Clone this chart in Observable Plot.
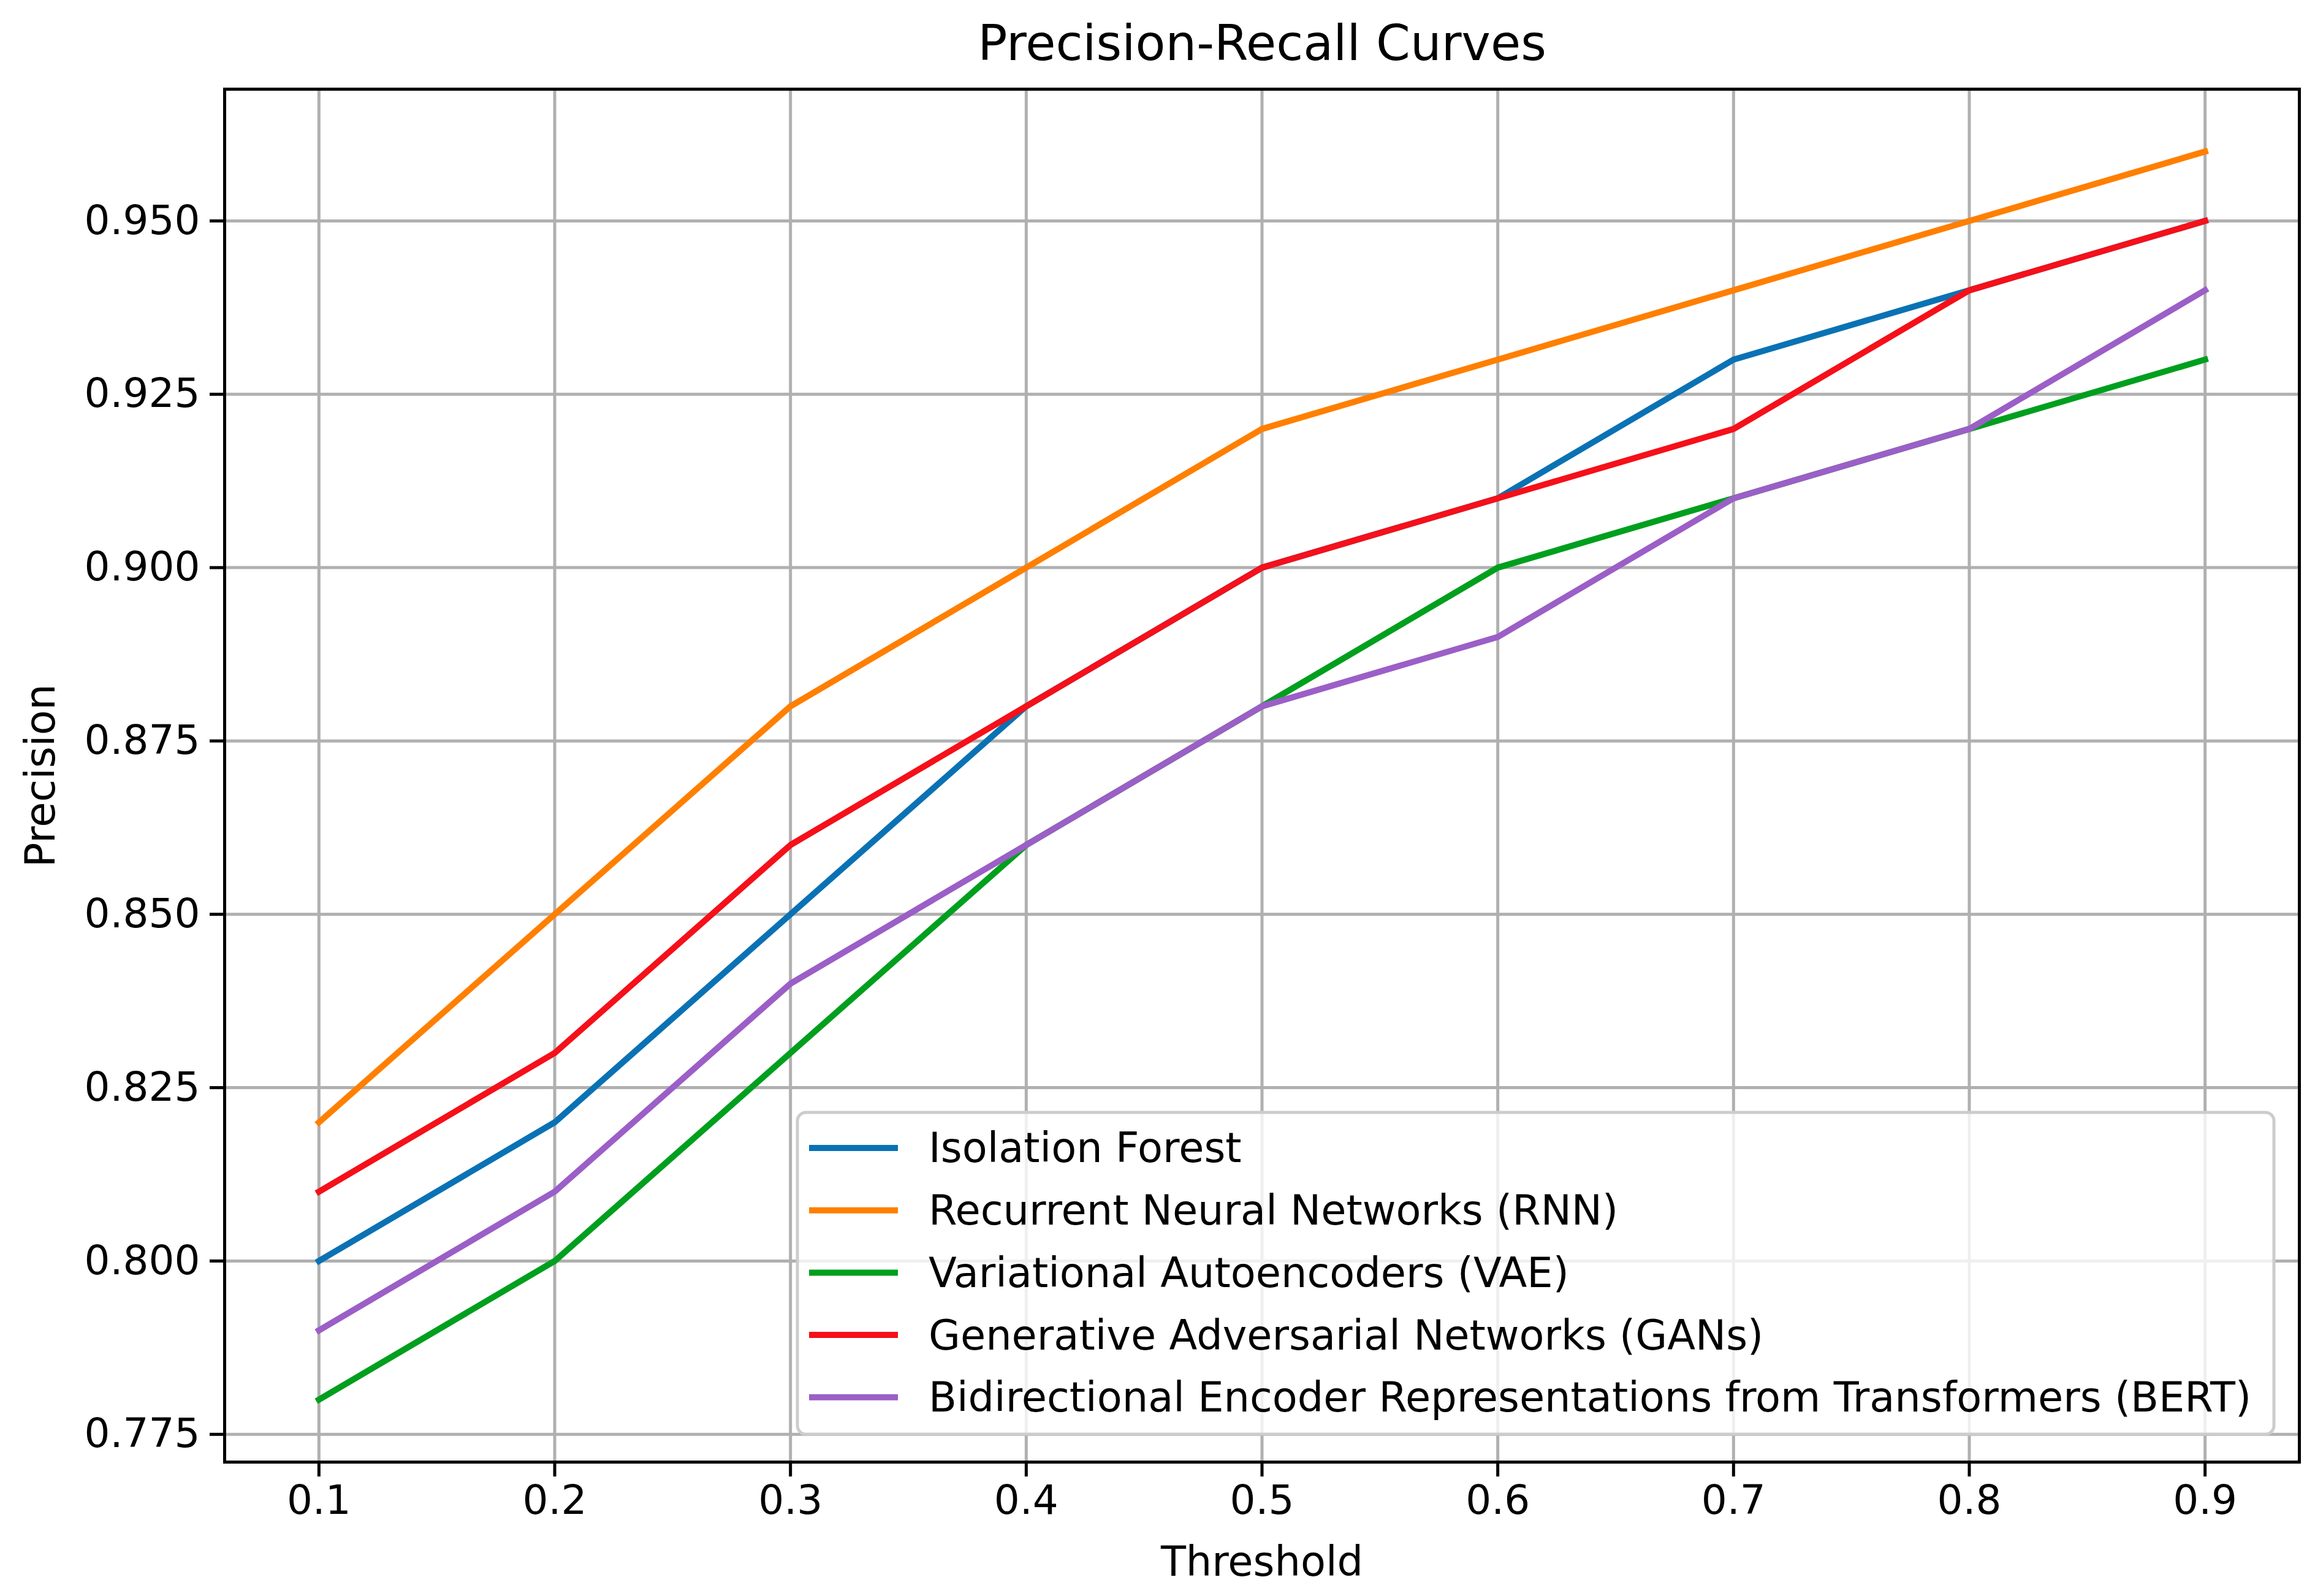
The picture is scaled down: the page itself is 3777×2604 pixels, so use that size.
<!DOCTYPE html>
<html><head><meta charset="utf-8">
<script src="https://cdn.jsdelivr.net/npm/d3@7"></script>
<script src="https://cdn.jsdelivr.net/npm/@observablehq/plot@0.6"></script>
<style>html,body{margin:0;padding:0;background:#fff} svg{display:block}</style>
</head><body><div id="chart"></div>
<script>
// ---- data ----
const thresholds = [0.1, 0.2, 0.3, 0.4, 0.5, 0.6, 0.7, 0.8, 0.9];
const seriesNames = [
  "Isolation Forest",
  "Recurrent Neural Networks (RNN)",
  "Variational Autoencoders (VAE)",
  "Generative Adversarial Networks (GANs)",
  "Bidirectional Encoder Representations from Transformers (BERT)"
];
const isolationForest = [0.80, 0.82, 0.85, 0.88, 0.90, 0.91, 0.93, 0.94, 0.95];
const rnn             = [0.82, 0.85, 0.88, 0.90, 0.92, 0.93, 0.94, 0.95, 0.96];
const vae             = [0.78, 0.80, 0.83, 0.86, 0.88, 0.90, 0.91, 0.92, 0.93];
const gans            = [0.81, 0.83, 0.86, 0.88, 0.90, 0.91, 0.92, 0.94, 0.95];
const bert            = [0.79, 0.81, 0.84, 0.86, 0.88, 0.89, 0.91, 0.92, 0.94];
const seriesValues = [isolationForest, rnn, vae, gans, bert];
const seriesColors = ["#0a72b4", "#ff7f00", "#009f1e", "#f5101a", "#9b5fc7"];
const xTicks = [0.1, 0.2, 0.3, 0.4, 0.5, 0.6, 0.7, 0.8, 0.9];
const yTicks = [0.775, 0.800, 0.825, 0.850, 0.875, 0.900, 0.925, 0.950];
const titleText = "Precision-Recall Curves";
const xLabel = "Threshold";
const yLabel = "Precision";

// ---- table ----
const rows = seriesNames.flatMap((name, i) =>
  thresholds.map((t, j) => ({series: name, threshold: t, precision: seriesValues[i][j]})));

// ---- layout ----
const W = 3777, H = 2604;
const mL = 366, mR = 26, mT = 145, mB = 219;
const font = "DejaVu Sans";
const fs = 66;

const plot = Plot.plot({
  width: W, height: H,
  marginLeft: mL, marginRight: mR, marginTop: mT, marginBottom: mB,
  style: {fontFamily: font, background: "white", color: "black", fontSize: fs + "px"},
  x: {domain: [0.06, 0.94]},
  y: {domain: [0.771, 0.969]},
  color: {domain: seriesNames, range: seriesColors},
  marks: [
    Plot.gridX(xTicks, {stroke: "#b0b0b0", strokeOpacity: 1, strokeWidth: 5}),
    Plot.gridY(yTicks, {stroke: "#b0b0b0", strokeOpacity: 1, strokeWidth: 5}),
    Plot.line(rows, {x: "threshold", y: "precision", z: "series", stroke: "series", strokeWidth: 10, strokeLinecap: "square"}),
    Plot.frame({stroke: "black", strokeWidth: 5}),
    Plot.axisX(xTicks, {tickSize: 24, strokeWidth: 5, tickPadding: 14, fontSize: fs, tickFormat: d3.format(".1f"), label: null}),
    Plot.axisY(yTicks, {tickSize: 24, strokeWidth: 5, tickPadding: 16, fontSize: fs, tickFormat: d3.format(".3f"), label: null}),
    Plot.text([titleText], {text: d => d, frameAnchor: "top", dy: -73, fontSize: 80, lineAnchor: "middle", textAnchor: "middle"}),
    Plot.text([xLabel], {text: d => d, frameAnchor: "bottom", dy: 164, fontSize: 67, lineAnchor: "middle", textAnchor: "middle"}),
    Plot.text([yLabel], {text: d => d, frameAnchor: "left", dx: -299, rotate: -90, fontSize: 67, lineAnchor: "middle", textAnchor: "middle"})
  ]
});
document.getElementById("chart").appendChild(plot);

// ---- legend (inside the frame, lower right) ----
const svg = d3.select(plot);
const frameRight = W - mR, frameBottom = H - mB;
const boxW = 2409, boxH = 525;
const bx = frameRight - 41 - boxW, by = frameBottom - 45 - boxH;
const lg = svg.append("g").attr("font-family", font).attr("font-size", 67)
  .attr("fill", "black").attr("text-anchor", "start");
lg.append("rect").attr("x", bx).attr("y", by).attr("width", boxW).attr("height", boxH)
  .attr("rx", 14).attr("fill", "white").attr("fill-opacity", 0.8)
  .attr("stroke", "#cccccc").attr("stroke-width", 5);
seriesNames.forEach((name, i) => {
  const cy = by + 58 + i * 101.7;
  lg.append("line").attr("x1", bx + 19).attr("x2", bx + 164).attr("y1", cy).attr("y2", cy)
    .attr("stroke", seriesColors[i]).attr("stroke-width", 10);
  lg.append("text").attr("x", bx + 214).attr("y", cy).attr("dy", "0.35em")
    .attr("text-anchor", "start").text(name);
});
</script>
</body></html>
